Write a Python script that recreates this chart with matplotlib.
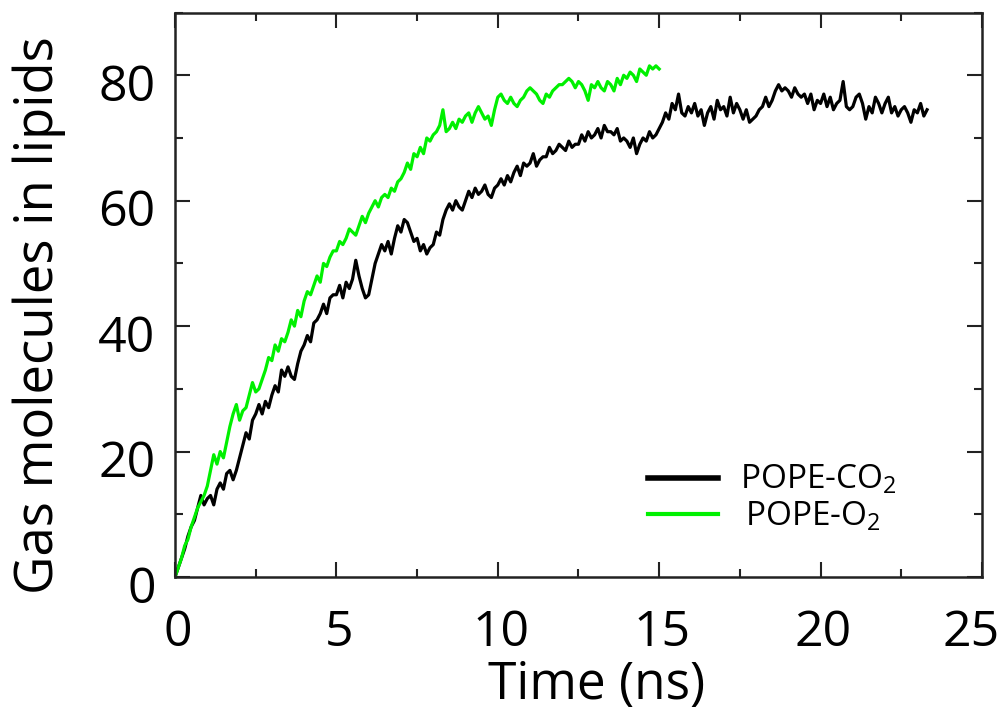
import matplotlib.pyplot as plt
import numpy as np
from matplotlib.ticker import MultipleLocator
from matplotlib.transforms import ScaledTranslation

plt.rcParams['font.family'] = ['Open Sans', 'DejaVu Sans']
plt.rcParams['mathtext.fontset'] = 'custom'
plt.rcParams['mathtext.rm'] = 'Open Sans'

STEP = 0.1  # ns between read-off samples

# POPE-CO2, every 0.1 ns (0 .. 23.3 ns)
pope_co2 = [
    0, 1.5, 3, 4.5, 6.5, 8, 9, 11, 13, 11.5,
    12.5, 13, 11.5, 14, 15, 14, 16.5, 17, 15.5, 17,
    19, 21, 23, 22, 25, 26, 27.5, 26, 28, 27,
    29, 30.5, 29.5, 33, 32, 33.5, 32, 31.5, 34, 36,
    37, 38.5, 37.5, 40.5, 41, 42, 43.5, 42, 44.5, 45,
    45, 46.5, 44.5, 47, 46, 47.5, 50.5, 48, 46, 44.5,
    45, 47.5, 50, 51.5, 53, 52, 53.5, 51.5, 54, 56,
    55, 57, 56.5, 55, 53.5, 54, 52, 53, 51.5, 52.5,
    53, 55, 54.5, 57, 58.5, 59.5, 58.5, 60, 59, 58.5,
    60, 61.5, 60.5, 62, 61, 61.5, 62.5, 61, 60.5, 62,
    62.5, 63.5, 62.5, 64, 63, 64.5, 65.5, 64, 66, 65.5,
    66, 67.5, 65.5, 66.5, 67, 67, 68.5, 67.5, 68, 69,
    68.5, 68, 69.5, 68.5, 69, 69, 70.5, 69.5, 71, 70,
    70.5, 71.5, 70, 72, 71, 71, 70.5, 71.5, 69.5, 70,
    69.5, 68.5, 70, 67.5, 69, 70, 69.5, 71, 70, 70.5,
    71.5, 72.5, 74, 73, 75.5, 74.5, 77, 74, 73.5, 75,
    74, 75.5, 73.5, 74.5, 72, 74, 75, 73, 76, 74.5,
    75, 73.5, 76.5, 74, 75.5, 74.5, 73, 74.5, 72.5, 73,
    73.5, 74.5, 75, 76.5, 75, 76, 77.5, 78.5, 77.5, 78,
    77.5, 76.5, 78, 77, 76.5, 77, 75.5, 77, 74.5, 76,
    75.5, 77, 75, 76.5, 74.5, 75.5, 76, 79, 75, 74.5,
    75, 76.5, 77, 75.5, 73, 75, 74, 76.5, 75.5, 74,
    75.5, 76.5, 74, 75, 73.5, 74.5, 75, 74, 72.5, 74.5,
    74, 75.5, 73.5, 74.5,
]

# POPE-O2, every 0.1 ns (0 .. 15 ns)
pope_o2 = [
    0, 1.5, 3, 5, 6, 8, 9.5, 11, 12, 13,
    14.5, 17, 19.5, 18, 20, 19, 21.5, 24, 26, 27.5,
    25, 26.5, 27, 29, 31, 29.5, 30, 31.5, 33, 35,
    34.5, 37, 36, 38, 37.5, 39, 41, 40, 42.5, 41.5,
    44, 45.5, 45, 46.5, 48, 47, 50, 49.5, 51, 52,
    52, 53.5, 53, 54, 55.5, 55, 54.5, 56, 57.5, 56.5,
    58, 59, 60, 59, 60.5, 61, 60.5, 62, 61.5, 63,
    63.5, 64.5, 66, 65, 67.5, 67, 68.5, 67.5, 70, 69.5,
    70.5, 71, 72, 74.5, 71, 71.5, 72.5, 71.5, 73, 72.5,
    73.5, 74, 72.5, 74, 75, 74, 73, 73.5, 72, 74.5,
    76.5, 77, 76, 75.5, 76.5, 75.5, 75, 76, 76.5, 77.5,
    78, 77.5, 77, 76, 75.5, 77, 76.5, 77.5, 78, 78.5,
    78.5, 79, 79.5, 79, 78, 79, 78.5, 77.5, 76, 78.5,
    78, 79, 78, 77.5, 79, 78.5, 77.5, 79.5, 78.5, 80,
    79.5, 80.5, 80, 79, 81, 80.5, 80, 81.5, 81, 81.5,
    81,
]

t_co2 = np.arange(len(pope_co2)) * STEP
t_o2 = np.arange(len(pope_o2)) * STEP

fig = plt.figure(figsize=(10.03, 7.12), dpi=100)
ax = fig.add_axes([0.1745, 0.1896, 0.8045, 0.7928])

ax.plot(t_co2, pope_co2, color='black', lw=2.3)
ax.plot(t_o2, pope_o2, color='#00f000', lw=2.3)

ax.set_xlim(0, 25)
ax.set_ylim(0, 90)
ax.set_xticks([0, 5, 10, 15, 20, 25])
ax.xaxis.set_minor_locator(MultipleLocator(2.5))
ax.set_yticks([0, 20, 40, 60, 80])
ax.yaxis.set_minor_locator(MultipleLocator(10))

ax.tick_params(which='both', direction='in', top=True, right=True, width=1.5, color='#222222')
ax.tick_params(which='major', length=11, labelsize=36)
ax.tick_params(which='minor', length=6)
ax.tick_params(axis='x', pad=23)
ax.tick_params(axis='y', pad=14)
for s in ax.spines.values():
    s.set_linewidth(1.8)
    s.set_color('#222222')

# small nudges of the tick labels, as in the original figure
for lab in ax.get_yticklabels():
    lab.set_transform(lab.get_transform() + ScaledTranslation(0, -0.07, fig.dpi_scale_trans))
xlabs = ax.get_xticklabels()
for lab in xlabs[:-1]:
    lab.set_transform(lab.get_transform() + ScaledTranslation(0.03, 0, fig.dpi_scale_trans))
xlabs[-1].set_transform(xlabs[-1].get_transform() + ScaledTranslation(-0.11, 0, fig.dpi_scale_trans))

ax.set_xlabel('Time (ns)', fontsize=37)
ax.set_ylabel('Gas molecules in lipids', fontsize=38)
ax.xaxis.set_label_coords(0.523, -0.147)
ax.yaxis.set_label_coords(-0.135, 0.464)

# legend drawn by hand
ax.plot([0.586, 0.673], [0.175, 0.175], color='black', lw=4, transform=ax.transAxes)
ax.plot([0.586, 0.673], [0.112, 0.112], color='#00f000', lw=3, transform=ax.transAxes)
ax.text(0.700, 0.158, r'POPE-CO$_\mathregular{2}$', fontsize=24, transform=ax.transAxes,
        va='baseline', ha='left')
ax.text(0.706, 0.092, r'POPE-O$_\mathregular{2}$', fontsize=24, transform=ax.transAxes,
        va='baseline', ha='left')

fig.savefig('out.png', dpi=100)
